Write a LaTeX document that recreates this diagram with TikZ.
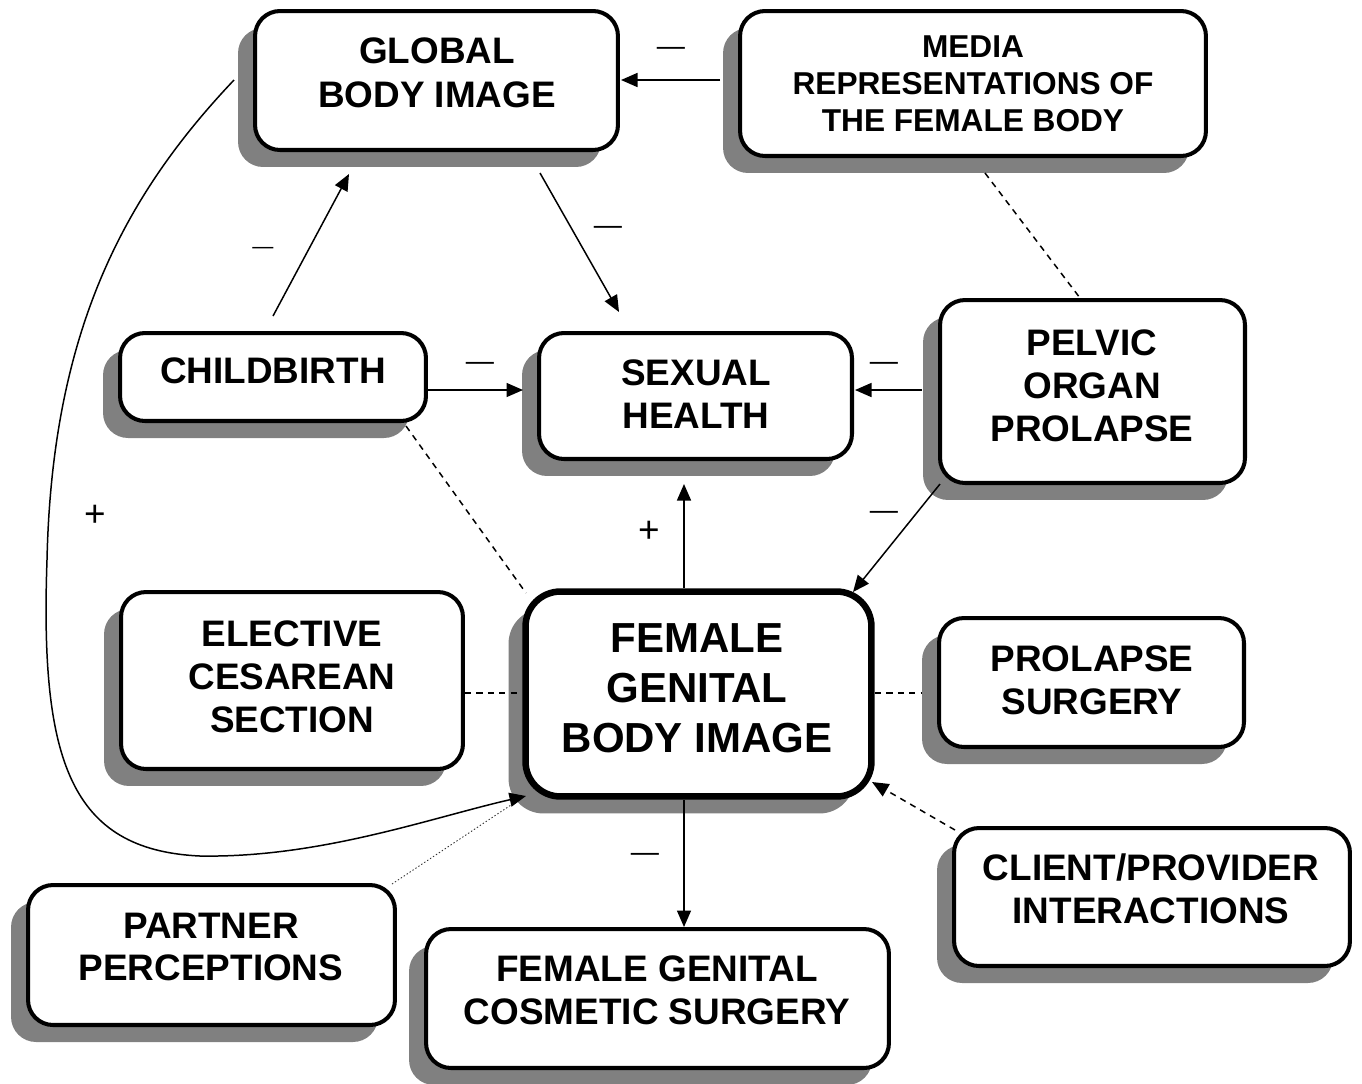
\documentclass[tikz,border=0pt]{standalone}
\usepackage{fontspec}
\setmainfont{Liberation Sans}
\usetikzlibrary{arrows.meta,shadows}
\definecolor{shgray}{HTML}{808080}
\begin{document}
\begin{tikzpicture}[x=0.02cm,y=-0.02cm,
  box/.style={draw, line width=2.3pt, rounded corners=0.5cm, fill=white, inner sep=0pt,
    general shadow={fill=shgray, shadow xshift=-0.34cm, shadow yshift=-0.34cm}},
  bigbox/.style={box, line width=3.7pt, rounded corners=0.7cm},
  txt/.style={font=\fontsize{21}{24.4}\selectfont\bfseries, align=center, inner sep=0pt},
  txtm/.style={font=\fontsize{18}{21}\selectfont\bfseries, align=center, inner sep=0pt},
  txtg/.style={font=\fontsize{21}{25}\selectfont\bfseries, align=center, inner sep=0pt},
  txtb/.style={font=\fontsize{23.9}{28.4}\selectfont\bfseries, align=center, inner sep=0pt},
  sign/.style={font=\fontsize{16}{16}\selectfont, inner sep=0pt},
  plus/.style={font=\fontsize{21}{21}\selectfont, inner sep=0pt},
  conn/.style={line width=0.85pt},
  arr/.style={conn, -{Triangle[length=0.33cm,width=0.28cm]}},
  dsh/.style={conn, dash pattern=on 3.5pt off 3pt},
  dot/.style={line width=0.5pt, dash pattern=on 0.8pt off 1.2pt, draw=black!80}
]
\useasboundingbox (0,0) rectangle (1362,1083);

% boxes
\node[box, minimum width=7.26cm, minimum height=2.78cm] (gbi) at (436.5,80.5) {};
\node[box, minimum width=9.32cm, minimum height=2.90cm] (media) at (973,83.5) {};
\node[box, minimum width=6.12cm, minimum height=1.76cm] (child) at (273,377) {};
\node[box, minimum width=6.26cm, minimum height=2.52cm] (sex) at (695.5,396) {};
\node[box, minimum width=6.10cm, minimum height=3.66cm] (pelvic) at (1092.5,391.5) {};
\node[box, minimum width=6.84cm, minimum height=3.54cm] (ecs) at (292,680.5) {};
\node[bigbox, minimum width=6.92cm, minimum height=4.10cm] (fgbi) at (698.5,694) {};
\node[box, minimum width=6.10cm, minimum height=2.58cm] (ps) at (1091.5,682.5) {};
\node[box, minimum width=7.92cm, minimum height=2.76cm] (client) at (1152,897) {};
\node[box, minimum width=7.34cm, minimum height=2.80cm] (partner) at (211.5,955) {};
\node[box, minimum width=9.26cm, minimum height=2.78cm] (fgcs) at (657.5,998.5) {};

% texts
\node[txtg] (gbit) at (437,72.5) {GLOBAL\\BODY IMAGE};
\node[txtm] (mediat) at (973,84) {MEDIA\\REPRESENTATIONS OF\\THE FEMALE BODY};
\node[txt] (childt) at (273,371) {CHILDBIRTH};
\node[txt] (sext) at (696,394) {SEXUAL\\HEALTH};
\node[txt] (pelvict) at (1092,385.5) {PELVIC\\ORGAN\\PROLAPSE};
\node[txt] (ecst) at (292,676.5) {ELECTIVE\\CESAREAN\\SECTION};
\node[txtb] (fgbit) at (697,688) {FEMALE\\GENITAL\\BODY IMAGE};
\node[txt] (pst) at (1092,680.5) {PROLAPSE\\SURGERY};
\node[txt] (clientt) at (1151,889) {CLIENT/PROVIDER\\INTERACTIONS};
\node[txt] (partnert) at (211,947) {PARTNER\\PERCEPTIONS};
\node[txt] (fgcst) at (657,990.5) {FEMALE GENITAL\\COSMETIC SURGERY};

% connector end points
\coordinate (a1s) at (720,80);   \coordinate (a1e) at (621,80);
\coordinate (a2s) at (273,316);  \coordinate (a2e) at (349,174);
\coordinate (a3s) at (540,173);  \coordinate (a3e) at (619,312);
\coordinate (a4s) at (428,390);  \coordinate (a4e) at (523,390);
\coordinate (a5s) at (922,390);  \coordinate (a5e) at (855,390);
\coordinate (d1s) at (985,173);  \coordinate (d1e) at (1080,298);
\coordinate (d2s) at (406,426);  \coordinate (d2e) at (526,593);
\coordinate (a8s) at (684,588);  \coordinate (a8e) at (684,484);
\coordinate (a9s) at (940,484);  \coordinate (a9e) at (853,592);
\coordinate (d3s) at (465,693);  \coordinate (d3e) at (521,693);
\coordinate (d4s) at (875,693);  \coordinate (d4e) at (921,693);
\coordinate (d5s) at (955,830);  \coordinate (d5e) at (872,782);
\coordinate (p1s) at (392,884);  \coordinate (p1e) at (514,803);
\coordinate (c1s) at (234,80);   \coordinate (c1e) at (526,796);
\coordinate (a15s) at (684,800); \coordinate (a15e) at (684,927);

% connectors
\draw[arr] (a1s) -- (a1e);
\draw[arr] (a2s) -- (a2e);
\draw[arr] (a3s) -- (a3e);
\draw[arr] (a4s) -- (a4e);
\draw[arr] (a5s) -- (a5e);
\draw[dsh] (d1s) -- (d1e);
\draw[dsh] (d2s) -- (d2e);
\draw[arr] (a8s) -- (a8e);
\draw[arr] (a9s) -- (a9e);
\draw[dsh] (d3s) -- (d3e);
\draw[dsh] (d4s) -- (d4e);
\draw[dsh, -{Triangle[length=0.33cm,width=0.28cm]}] (d5s) -- (d5e);
\draw[dot] (p1s) -- (p1e);
\draw[arr] (c1s) .. controls (125,195) and (52,330) .. (47,560)
  .. controls (40,760) and (70,850) .. (200,856)
  .. controls (320,858) and (430,818) .. (c1e);
\draw[arr] (a15s) -- (a15e);

% signs
\node[sign] (s1) at (671,51) {—};
\node[font=\fontsize{12}{12}\selectfont, inner sep=0pt] (s2) at (263,250) {—};
\node[sign] (s3) at (608,230) {—};
\node[sign] (s4) at (480,366) {—};
\node[sign] (s5) at (884,366) {—};
\node[sign] (s6) at (884,515) {—};
\node[sign] (s7) at (645,857) {—};
\node[plus] (s8) at (95,516) {+};
\node[plus] (s9) at (649,532) {+};
\end{tikzpicture}
\end{document}
